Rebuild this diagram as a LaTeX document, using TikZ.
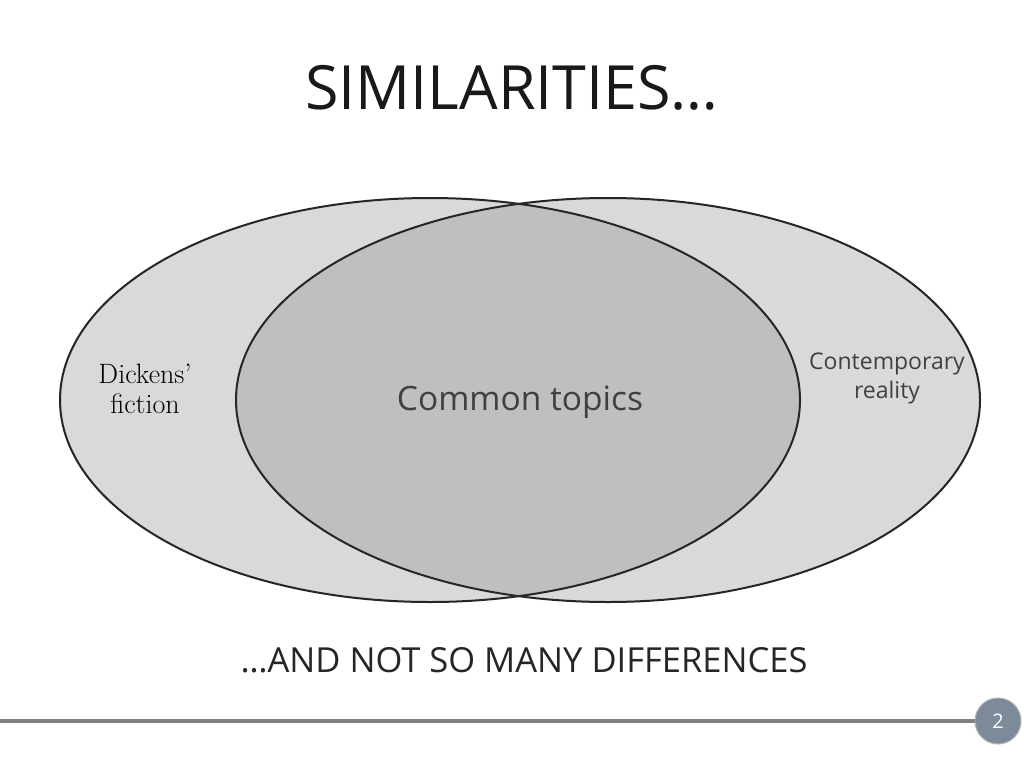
\documentclass[tikz,border=0pt]{standalone}
\usepackage{fontspec}
\setsansfont{Open Sans}
\begin{document}
\begin{tikzpicture}[x=1pt,y=-1pt,
  ell/.style={draw=black!85,line width=2pt},
  lab/.style={align=center,text=black!75}]
\useasboundingbox (0,0) rectangle (1024,768);
\fill[white] (0,0) rectangle (1024,768);
\fill[gray!30] (430,400) ellipse [x radius=370,y radius=202];
\fill[gray!30] (608,400) ellipse [x radius=372,y radius=202];
\begin{scope}
\clip (430,400) ellipse [x radius=370,y radius=202];
\fill[gray!50] (608,400) ellipse [x radius=372,y radius=202];
\end{scope}
\draw[ell] (430,400) ellipse [x radius=370,y radius=202];
\draw[ell] (608,400) ellipse [x radius=372,y radius=202];
\node[font=\sffamily\fontsize{61}{64}\selectfont,text=black!90] (title) at (512,88) {SIMILARITIES…};
\node[lab,font=\fontsize{28}{30}\selectfont,text=black] (dick) at (145,389) {Dickens'\\fiction};
\node[lab,font=\sffamily\fontsize{23}{29}\selectfont] (cont) at (887,378) {Contemporary\\reality};
\node[lab,font=\sffamily\fontsize{33.5}{36}\selectfont] (common) at (520,402) {Common topics};
\node[font=\sffamily\fontsize{34.5}{36}\selectfont,text=black!85] (sub) at (524,660) {…AND NOT SO MANY DIFFERENCES};
\node[circle,fill={rgb,255:red,125;green,138;blue,153},draw=gray!60,line width=1pt,minimum size=46pt,inner sep=0pt,text=white,font=\sffamily\fontsize{20}{22}\selectfont] (num) at (998,721) {2};
\coordinate (l0) at (0,721);
\draw[gray,line width=4pt] (l0) -- (num.west);
\end{tikzpicture}
\end{document}
